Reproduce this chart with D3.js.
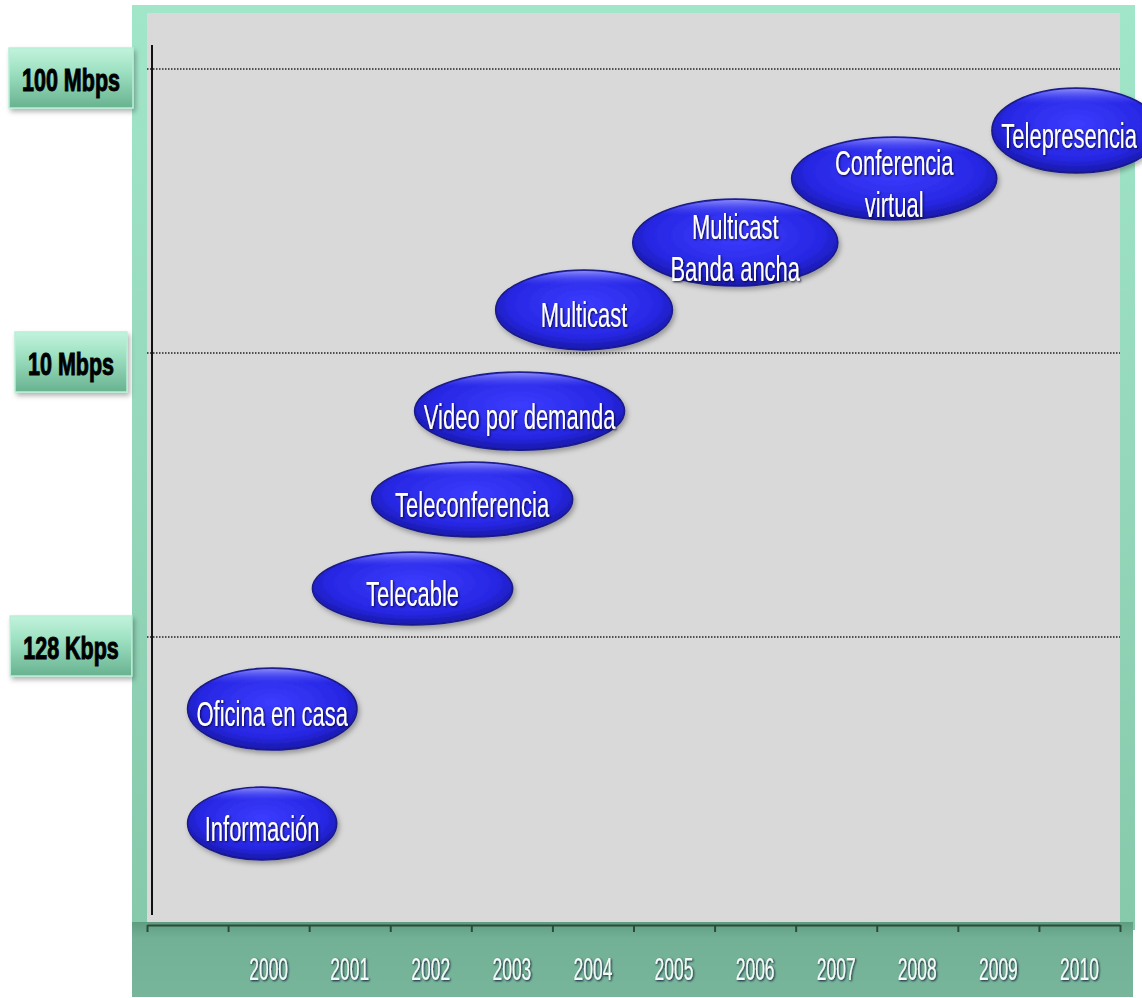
<!DOCTYPE html>
<html>
<head>
<meta charset="utf-8">
<script src="https://cdn.jsdelivr.net/npm/d3@7"></script>
<style>
  body { margin: 0; background: #fff; }
  svg { display: block; }
</style>
</head>
<body>
<div id="chart"></div>
<script>
// years on the bottom axis, bandwidth levels on the left
var years = [2000, 2001, 2002, 2003, 2004, 2005, 2006, 2007, 2008, 2009, 2010];
var levelLabels = ['128 Kbps', '10 Mbps', '100 Mbps'];
var levelValues = [1, 2, 3];

// services: span in years (x) and span in bandwidth level (y)
var services = ['Información', 'Oficina en casa', 'Telecable', 'Teleconferencia', 'Video por demanda',
                'Multicast', 'Multicast|Banda ancha', 'Conferencia|virtual', 'Telepresencia'];
var yearStart = [1999.00, 1999.00, 2000.54, 2001.27, 2001.80, 2002.80, 2004.49, 2006.45, 2008.92];
var yearEnd   = [2000.84, 2001.09, 2003.01, 2003.75, 2004.39, 2004.98, 2007.02, 2008.98, 2011.00];
var levelLow  = [0.215, 0.602, 1.042, 1.352, 1.658, 2.011, 2.236, 2.468, 2.634];
var levelHigh = [0.472, 0.891, 1.299, 1.616, 1.933, 2.292, 2.542, 2.761, 2.933];

var width = 1142, height = 998;
var svg = d3.select('#chart').append('svg')
  .attr('width', width)
  .attr('height', height);

var x = d3.scaleLinear().domain([1998.5, 2010.5]).range([147, 1120]);
var y = d3.scaleLinear().domain([0, 3]).range([921, 69]);

var defs = svg.append('defs');

var frameGrad = defs.append('linearGradient').attr('id', 'frameGrad')
  .attr('x1', 0).attr('y1', 0).attr('x2', 0).attr('y2', 1);
frameGrad.append('stop').attr('offset', '0%').attr('stop-color', '#a2e6ca');
frameGrad.append('stop').attr('offset', '100%').attr('stop-color', '#86c8aa');

var bandGrad = defs.append('linearGradient').attr('id', 'bandGrad')
  .attr('x1', 0).attr('y1', 0).attr('x2', 0).attr('y2', 1);
bandGrad.append('stop').attr('offset', '0%').attr('stop-color', '#5f9d81');
bandGrad.append('stop').attr('offset', '22%').attr('stop-color', '#73b196');
bandGrad.append('stop').attr('offset', '100%').attr('stop-color', '#78b69b');

var boxGrad = defs.append('linearGradient').attr('id', 'boxGrad')
  .attr('x1', 0).attr('y1', 0).attr('x2', 0).attr('y2', 1);
boxGrad.append('stop').attr('offset', '0%').attr('stop-color', '#c2f3dc');
boxGrad.append('stop').attr('offset', '40%').attr('stop-color', '#9de0c1');
boxGrad.append('stop').attr('offset', '100%').attr('stop-color', '#68b290');

var blobGrad = defs.append('radialGradient').attr('id', 'blobGrad')
  .attr('cx', '50%').attr('cy', '42%').attr('r', '60%');
blobGrad.append('stop').attr('offset', '0%').attr('stop-color', '#3c3cff');
blobGrad.append('stop').attr('offset', '70%').attr('stop-color', '#2727e4');
blobGrad.append('stop').attr('offset', '100%').attr('stop-color', '#1616a0');

var shine = defs.append('linearGradient').attr('id', 'shine')
  .attr('x1', 0).attr('y1', 0).attr('x2', 0).attr('y2', 1);
shine.append('stop').attr('offset', '0%').attr('stop-color', '#a0a0ff').attr('stop-opacity', 0.8);
shine.append('stop').attr('offset', '18%').attr('stop-color', '#5050ff').attr('stop-opacity', 0);
shine.append('stop').attr('offset', '100%').attr('stop-color', '#5050ff').attr('stop-opacity', 0);

var shadow = defs.append('filter').attr('id', 'shadow')
  .attr('x', '-20%').attr('y', '-20%').attr('width', '140%').attr('height', '150%');
shadow.append('feDropShadow').attr('dx', 2).attr('dy', 3).attr('stdDeviation', 2.5)
  .attr('flood-color', '#000').attr('flood-opacity', 0.3);

var textShadow = defs.append('filter').attr('id', 'textShadow')
  .attr('x', '-10%').attr('y', '-30%').attr('width', '120%').attr('height', '160%');
textShadow.append('feDropShadow').attr('dx', 1).attr('dy', 1).attr('stdDeviation', 0.8)
  .attr('flood-color', '#000030').attr('flood-opacity', 0.9);

// frame, bottom band, plot area
svg.append('rect')
  .attr('x', 132).attr('y', 5).attr('width', 1003).attr('height', 925)
  .attr('fill', 'url(#frameGrad)');
svg.append('rect')
  .attr('x', 132).attr('y', 922).attr('width', 1001).attr('height', 75)
  .attr('fill', 'url(#bandGrad)');
svg.append('rect')
  .attr('x', x.range()[0]).attr('y', 13)
  .attr('width', x.range()[1] - x.range()[0]).attr('height', y(0) + 1 - 13)
  .attr('fill', '#d9d9d9');

// dotted level lines
svg.append('g').selectAll('line')
  .data(levelValues)
  .enter().append('line')
  .attr('x1', x.range()[0]).attr('x2', x.range()[1])
  .attr('y1', function (d) { return y(d); })
  .attr('y2', function (d) { return y(d); })
  .attr('stroke', '#222')
  .attr('stroke-width', 1.5)
  .attr('stroke-dasharray', '1.5,1.5');

// vertical axis line
svg.append('line')
  .attr('x1', x.range()[0] + 5).attr('x2', x.range()[0] + 5)
  .attr('y1', y(3) - 24).attr('y2', y(0) - 6)
  .attr('stroke', '#111').attr('stroke-width', 2);

// bottom axis with ticks between years
var tickAxis = d3.axisBottom(x)
  .tickValues(d3.range(1998.5, 2011, 1))
  .tickSize(7)
  .tickSizeOuter(0)
  .tickFormat('');
var gx = svg.append('g')
  .attr('transform', 'translate(0,' + 925 + ')')
  .call(tickAxis);
gx.selectAll('path, line').attr('stroke', '#2c4a3b').attr('stroke-width', 2);

// tall and narrow text, as in the picture
function tallText(parent, str, cx, baseY, size, sy) {
  var g = parent.append('g')
    .attr('transform', 'translate(' + cx + ',' + baseY + ') scale(1,' + sy + ')');
  return g.append('text')
    .attr('text-anchor', 'middle')
    .attr('font-size', size)
    .text(str);
}

var yearG = svg.append('g')
  .attr('font-family', 'Liberation Sans, Arial, sans-serif')
  .attr('filter', 'url(#textShadow)');
years.forEach(function (yr) {
  tallText(yearG, d3.format('d')(yr), x(yr), 980, 17.5, 1.8)
    .attr('fill', '#f4fbf7');
});

// service ellipses
var blobG = svg.append('g');
services.forEach(function (s, i) {
  var x0 = x(yearStart[i]), x1 = x(yearEnd[i]);
  var yTop = y(levelHigh[i]), yBot = y(levelLow[i]);
  var cx = (x0 + x1) / 2, cy = (yTop + yBot) / 2;
  var rx = (x1 - x0) / 2, ry = (yBot - yTop) / 2;
  var g = blobG.append('g');
  g.append('ellipse')
    .attr('cx', cx).attr('cy', cy).attr('rx', rx).attr('ry', ry)
    .attr('fill', 'url(#blobGrad)')
    .attr('stroke', '#1a1a86').attr('stroke-width', 1.5)
    .attr('filter', 'url(#shadow)');
  g.append('ellipse')
    .attr('cx', cx).attr('cy', cy).attr('rx', rx - 1).attr('ry', ry - 1)
    .attr('fill', 'url(#shine)');

  var lines = s.split('|');
  var size = 22, sy = 1.58, pitch = 42;
  var cap = 0.716 * size * sy;
  var tg = g.append('g')
    .attr('font-family', 'Liberation Sans, Arial, sans-serif')
    .attr('filter', 'url(#textShadow)');
  lines.forEach(function (ln, j) {
    var base = cy + 5 + (j - (lines.length - 1) / 2) * pitch + cap / 2;
    var t = tallText(tg, ln, cx, base, size, sy).attr('fill', '#fff');
    // keep the label inside the page when the ellipse runs off the edge
    var half = t.node().getComputedTextLength() / 2;
    var tx = Math.min(cx, width - 5 - half);
    if (tx !== cx) {
      d3.select(t.node().parentNode)
        .attr('transform', 'translate(' + tx + ',' + base + ') scale(1,' + sy + ')');
    }
  });
});

// level label buttons on the left
var boxG = svg.append('g');
levelLabels.forEach(function (lab, i) {
  var cy = y(levelValues[i]) + 9;
  var g = boxG.append('g');
  var rect = g.append('rect')
    .attr('height', 60)
    .attr('fill', 'url(#boxGrad)')
    .attr('stroke', '#b8eed6').attr('stroke-width', 1.5)
    .attr('filter', 'url(#shadow)');
  var t = tallText(g, lab, 71, cy + 0.716 * 21.5 * 1.45 / 2 + 2, 21.5, 1.45)
    .attr('font-family', 'Liberation Sans, Arial, sans-serif')
    .attr('font-weight', 'bold')
    .attr('fill', '#000')
    .attr('stroke', '#000')
    .attr('stroke-width', 0.7);
  var w = t.node().getComputedTextLength() + 26;
  rect.attr('x', 71 - w / 2).attr('y', cy - 30).attr('width', w);
});
</script>
</body>
</html>
